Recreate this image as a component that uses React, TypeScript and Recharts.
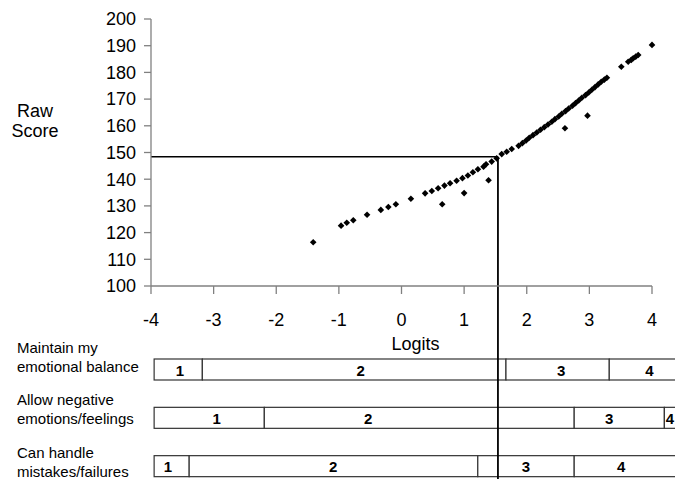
import React from 'react';
import {
  ScatterChart,
  Scatter,
  XAxis,
  YAxis,
  ReferenceLine,
  BarChart,
  Bar,
} from 'recharts';

// ---------- data ----------
const xTicks = [-4, -3, -2, -1, 0, 1, 2, 3, 4];
const yTicks = [100, 110, 120, 130, 140, 150, 160, 170, 180, 190, 200];

// raw score vs logit (main curve)
const curveLogits = [
  -1.41, -0.965, -0.874, -0.77, -0.55, -0.33, -0.21, -0.09, 0.15, 0.377, 0.484, 0.585,
  0.686, 0.776, 0.88, 0.973, 1.06, 1.14, 1.22, 1.31, 1.35, 1.44, 1.52,
  1.6, 1.68, 1.76, 1.87, 1.93, 1.99, 2.04, 2.1, 2.16, 2.22, 2.28, 2.34, 2.4, 2.45,
  2.51, 2.56, 2.62, 2.67, 2.73, 2.78, 2.83, 2.88, 2.94, 2.99, 3.04, 3.09, 3.14, 3.19,
  3.24, 3.28, 3.51, 3.62, 3.67, 3.7, 3.74, 3.78, 4.0,
];
const curveScores = [
  116.4, 122.6, 123.7, 124.6, 126.7, 128.5, 129.6, 130.6, 132.7, 134.7, 135.6, 136.6,
  137.6, 138.5, 139.4, 140.4, 141.4, 142.6, 143.7, 144.7, 145.6, 146.6, 147.8,
  149.4, 150.3, 151.3, 152.5, 153.5, 154.5, 155.5, 156.5, 157.5, 158.5, 159.5, 160.5, 161.5, 162.5,
  163.5, 164.5, 165.5, 166.5, 167.5, 168.5, 169.5, 170.5, 171.5, 172.5, 173.5, 174.5, 175.5, 176.5,
  177.3, 178.0, 182.1, 184.0, 184.7, 185.3, 185.9, 186.5, 190.3,
];
// off-curve points
const offLogits = [0.65, 1.0, 1.39, 2.61, 2.97];
const offScores = [130.6, 134.8, 139.6, 159.1, 163.8];

const cutLogit = 1.54;
const cutScore = 148.4;

// item category maps
const itemNames = [
  'Maintain my\nemotional balance',
  'Allow negative\nemotions/feelings',
  'Can handle\nmistakes/failures',
];
const categoryNames = ['1', '2', '3', '4'];
const thresholds = [
  [-3.95, -3.18, 1.67, 3.32, 4.6],
  [-3.95, -2.19, 2.76, 4.2, 4.6],
  [-3.95, -3.39, 1.22, 2.76, 4.6],
];
const labelLogits = [
  [-3.54, -0.65, 2.55, 3.96],
  [-2.95, -0.53, 3.32, 4.29],
  [-3.73, -1.09, 1.99, 3.51],
];

// ---------- derived tables ----------
const curveData = curveLogits.map((x, i) => ({ x, y: curveScores[i] }));
const offData = offLogits.map((x, i) => ({ x, y: offScores[i] }));
const rows = itemNames.map((name, r) => {
  const row: any = { name };
  categoryNames.forEach((c, k) => {
    row['seg' + k] = [thresholds[r][k], thresholds[r][k + 1]];
    row['lab' + k] = labelLogits[r][k];
  });
  return row;
});

const FONT = '"Liberation Sans", Arial, sans-serif';

const Diamond = (p: any) => {
  const { cx, cy } = p;
  const s = 3.3;
  return (
    <path
      d={`M${cx},${cy - s}L${cx + s},${cy}L${cx},${cy + s}L${cx - s},${cy}Z`}
      fill="#000"
    />
  );
};

const makeSegShape = (k: number) => (p: any) => {
  const { x, y, width, height, payload } = p;
  const [a, b] = payload['seg' + k];
  const lx = x + (width * (payload['lab' + k] - a)) / (b - a);
  return (
    <g>
      <rect x={x} y={y} width={width} height={height} fill="#fff" stroke="#333" strokeWidth={1.2} />
      <text
        x={lx}
        y={y + height / 2 + 6}
        textAnchor="middle"
        fontFamily={FONT}
        fontWeight="bold"
        fontSize={15}
        fill="#000"
      >
        {categoryNames[k]}
      </text>
    </g>
  );
};

const RowTick = (p: any) => {
  const { y, payload, index } = p;
  const lines = String(payload.value).split('\n');
  const base2 = y + 2.6 + index * 4.3;
  return (
    <text x={17} fontFamily={FONT} fontSize={15} fill="#000" textAnchor="start">
      <tspan x={17} y={base2 - 19}>{lines[0]}</tspan>
      <tspan x={17} y={base2}>{lines[1]}</tspan>
    </text>
  );
};

export default function App() {
  return (
    <div style={{ position: 'absolute', left: 0, top: 0, width: 675, height: 479, overflow: 'hidden', background: '#fff' }}>
      <div style={{ position: 'absolute', left: 0, top: 300 }}>
        <BarChart
          width={675}
          height={190}
          data={rows}
          layout="vertical"
          barGap={-21}
          margin={{ top: 45, right: 0, bottom: 0, left: 0 }}
        >
          <XAxis type="number" domain={[-4, 4.37]} allowDataOverflow hide />
          <YAxis
            type="category"
            dataKey="name"
            width={151}
            axisLine={false}
            tickLine={false}
            tick={RowTick}
            interval={0}
          />
          {categoryNames.map((c, k) => (
            <Bar
              key={c}
              dataKey={'seg' + k}
              barSize={21}
              isAnimationActive={false}
              shape={makeSegShape(k)}
            />
          ))}
        </BarChart>
      </div>
      <div style={{ position: 'absolute', left: 0, top: 0 }}>
        <ScatterChart width={675} height={479} margin={{ top: 19, right: 23, bottom: 133, left: 0 }}>
          <XAxis
            type="number"
            dataKey="x"
            domain={[-4, 4]}
            ticks={xTicks}
            height={60}
            tickSize={8}
            tickMargin={19}
            axisLine={{ stroke: '#808080', strokeWidth: 1.3 }}
            tickLine={{ stroke: '#808080', strokeWidth: 1.3 }}
            tick={{ fill: '#000', fontSize: 18, fontFamily: FONT }}
            label={(props: any) => {
              const vb = props.viewBox;
              return (
                <text
                  x={vb.x + vb.width / 2 + 14}
                  y={vb.y + 64}
                  textAnchor="middle"
                  fontFamily={FONT}
                  fontSize={18}
                  fill="#000"
                >
                  Logits
                </text>
              );
            }}
          />
          <YAxis
            type="number"
            dataKey="y"
            domain={[100, 200]}
            ticks={yTicks}
            width={151}
            tickSize={7}
            tickMargin={8}
            axisLine={{ stroke: '#808080', strokeWidth: 1.3 }}
            tickLine={{ stroke: '#808080', strokeWidth: 1.3 }}
            tick={{ fill: '#000', fontSize: 18, fontFamily: FONT }}
            label={() => (
              <text textAnchor="middle" fontFamily={FONT} fontSize={18} fill="#000">
                <tspan x={35} y={117}>Raw</tspan>
                <tspan x={35} y={137}>Score</tspan>
              </text>
            )}
          />
          <ReferenceLine
            segment={[{ x: -4, y: cutScore }, { x: cutLogit, y: cutScore }]}
            stroke="#000"
            strokeWidth={1.5}
            ifOverflow="visible"
          />
          <ReferenceLine
            segment={[{ x: cutLogit, y: cutScore }, { x: cutLogit, y: 0 }]}
            stroke="#000"
            strokeWidth={1.8}
            ifOverflow="visible"
          />
          <Scatter data={curveData} shape={Diamond} isAnimationActive={false} />
          <Scatter data={offData} shape={Diamond} isAnimationActive={false} />
        </ScatterChart>
      </div>
    </div>
  );
}
